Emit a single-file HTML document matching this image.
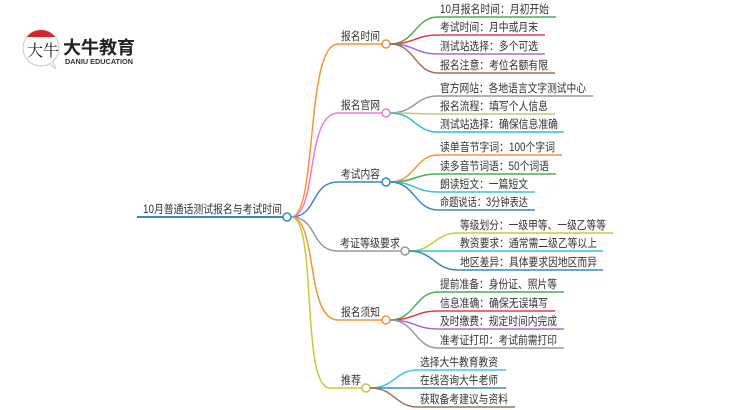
<!DOCTYPE html>
<html><head><meta charset="utf-8"><style>
body{margin:0;background:#fff;width:750px;height:410px;overflow:hidden}
svg{display:block}
text{font-family:"Liberation Sans","Noto Sans CJK SC",sans-serif;fill:#333;font-size:11.5px}
</style></head><body>
<svg width="750" height="410" viewBox="0 0 750 410" fill="none" stroke-width="1.5">
<defs><clipPath id="c"><circle cx="41" cy="48" r="18"/></clipPath></defs>
<circle cx="41" cy="48" r="18" fill="#fff" stroke="#ccc" stroke-width="1"/>
<rect x="20" y="29" width="42" height="8" fill="#d9232a" clip-path="url(#c)"/>
<path d="M50 64 L56 69 L53 62" stroke="#ccc" stroke-width="1" fill="#fff"/>
<text x="27" y="56" style="font-size:16px;fill:#222;font-family:'Noto Serif CJK SC',serif">大牛</text>
<text x="63" y="54" textLength="72" lengthAdjust="spacingAndGlyphs" style="font-size:18px;font-weight:bold;fill:#222">大牛教育</text>
<text x="65" y="64" textLength="68" lengthAdjust="spacingAndGlyphs" style="font-size:7px;fill:#333;font-weight:bold">DANIU EDUCATION</text>

<line x1="137" y1="217" x2="283" y2="217" stroke="#3a87c8" stroke-width="2"/>
<text x="143" y="213" textLength="139" lengthAdjust="spacingAndGlyphs">10月普通话测试报名与考试时间</text>

<path d="M291 217 C318 217 305 44 338 44 L382 44" stroke="#f7943a"/>
<path d="M291 217 C318 217 305 113 338 113 L382 113" stroke="#e87ed4"/>
<path d="M291 217 C318 217 310 182 338 182 L382 182" stroke="#3a87c8"/>
<path d="M291 217 C318 217 310 251 338 251 L401 251" stroke="#999"/>
<path d="M291 217 C318 217 305 320 338 320 L382 320" stroke="#f7943a"/>
<path d="M291 217 C318 217 300 388 330 388 L362 388" stroke="#c8c83a"/>
<circle cx="287" cy="217" r="4" fill="#fff" stroke="#3a87c8"/>
<circle cx="386" cy="44" r="4" fill="#fff" stroke="#f7943a"/>
<circle cx="386" cy="113" r="4" fill="#fff" stroke="#e87ed4"/>
<circle cx="386" cy="182" r="4" fill="#fff" stroke="#3a87c8"/>
<circle cx="405" cy="251" r="4" fill="#fff" stroke="#999"/>
<circle cx="386" cy="320" r="4" fill="#fff" stroke="#f7943a"/>
<circle cx="366" cy="388" r="4" fill="#fff" stroke="#c8c83a"/>
<text x="341" y="40" textLength="39" lengthAdjust="spacingAndGlyphs">报名时间</text>
<text x="341" y="109" textLength="39" lengthAdjust="spacingAndGlyphs">报名官网</text>
<text x="341" y="178" textLength="39" lengthAdjust="spacingAndGlyphs">考试内容</text>
<text x="340" y="247" textLength="60" lengthAdjust="spacingAndGlyphs">考证等级要求</text>
<text x="341" y="316" textLength="39" lengthAdjust="spacingAndGlyphs">报名须知</text>
<text x="341" y="384" textLength="20" lengthAdjust="spacingAndGlyphs">推荐</text>

<path d="M390 44 C415 44 415 17 438 17 L556 17" stroke="#4caf50"/>
<path d="M390 44 C415 44 415 35 438 35 L545 35" stroke="#e04040"/>
<path d="M390 44 C415 44 415 54 438 54 L545 54" stroke="#a070d0"/>
<path d="M390 44 C415 44 415 73 438 73 L555 73" stroke="#a0705a"/>
<text x="440" y="13" textLength="109" lengthAdjust="spacingAndGlyphs">10月报名时间：月初开始</text>
<text x="440" y="31" textLength="98" lengthAdjust="spacingAndGlyphs">考试时间：月中或月末</text>
<text x="440" y="50" textLength="98" lengthAdjust="spacingAndGlyphs">测试站选择：多个可选</text>
<text x="440" y="69" textLength="108" lengthAdjust="spacingAndGlyphs">报名注意：考位名额有限</text>
<path d="M390 113 C415 113 415 96 438 96 L593 96" stroke="#999"/>
<path d="M390 113 C415 113 415 114 438 114 L555 114" stroke="#c8c870"/>
<path d="M390 113 C415 113 415 132 438 132 L564 132" stroke="#30c0d0"/>
<text x="440" y="92" textLength="146" lengthAdjust="spacingAndGlyphs">官方网站：各地语言文字测试中心</text>
<text x="440" y="110" textLength="108" lengthAdjust="spacingAndGlyphs">报名流程：填写个人信息</text>
<text x="440" y="128" textLength="118" lengthAdjust="spacingAndGlyphs">测试站选择：确保信息准确</text>
<path d="M390 182 C415 182 415 155 438 155 L562 155" stroke="#f7943a"/>
<path d="M390 182 C415 182 415 174 438 174 L556 174" stroke="#4caf50"/>
<path d="M390 182 C415 182 415 192 438 192 L535 192" stroke="#40c0d0"/>
<path d="M390 182 C415 182 415 210 438 210 L535 210" stroke="#3a87c8"/>
<text x="440" y="151" textLength="115" lengthAdjust="spacingAndGlyphs">读单音节字词：100个字词</text>
<text x="440" y="170" textLength="109" lengthAdjust="spacingAndGlyphs">读多音节词语：50个词语</text>
<text x="440" y="188" textLength="88" lengthAdjust="spacingAndGlyphs">朗读短文：一篇短文</text>
<text x="440" y="206" textLength="88" lengthAdjust="spacingAndGlyphs">命题说话：3分钟表达</text>
<path d="M409 251 C434 251 434 233 458 233 L613 233" stroke="#c8c83a"/>
<path d="M409 251 C434 251 434 251 458 251 L603 251" stroke="#30c0d0"/>
<path d="M409 251 C434 251 434 270 458 270 L603 270" stroke="#3a87c8"/>
<text x="460" y="229" textLength="146" lengthAdjust="spacingAndGlyphs">等级划分：一级甲等、一级乙等等</text>
<text x="460" y="247" textLength="137" lengthAdjust="spacingAndGlyphs">教资要求：通常需二级乙等以上</text>
<text x="460" y="266" textLength="137" lengthAdjust="spacingAndGlyphs">地区差异：具体要求因地区而异</text>
<path d="M390 320 C415 320 415 292 438 292 L564 292" stroke="#4caf50"/>
<path d="M390 320 C415 320 415 311 438 311 L555 311" stroke="#e04040"/>
<path d="M390 320 C415 320 415 329 438 329 L564 329" stroke="#a070d0"/>
<path d="M390 320 C415 320 415 348 438 348 L564 348" stroke="#999"/>
<text x="440" y="288" textLength="117" lengthAdjust="spacingAndGlyphs">提前准备：身份证、照片等</text>
<text x="440" y="307" textLength="108" lengthAdjust="spacingAndGlyphs">信息准确：确保无误填写</text>
<text x="440" y="325" textLength="117" lengthAdjust="spacingAndGlyphs">及时缴费：规定时间内完成</text>
<text x="440" y="344" textLength="117" lengthAdjust="spacingAndGlyphs">准考证打印：考试前需打印</text>
<path d="M370 388 C395 388 395 370 418 370 L506 370" stroke="#40c8d8"/>
<path d="M370 388 C395 388 395 388 418 388 L506 388" stroke="#3a87c8"/>
<path d="M370 388 C395 388 395 407 418 407 L515 407" stroke="#a0705a"/>
<text x="420" y="366" textLength="78" lengthAdjust="spacingAndGlyphs">选择大牛教育教资</text>
<text x="420" y="384" textLength="78" lengthAdjust="spacingAndGlyphs">在线咨询大牛老师</text>
<text x="420" y="403" textLength="88" lengthAdjust="spacingAndGlyphs">获取备考建议与资料</text>
</svg>
</body></html>
